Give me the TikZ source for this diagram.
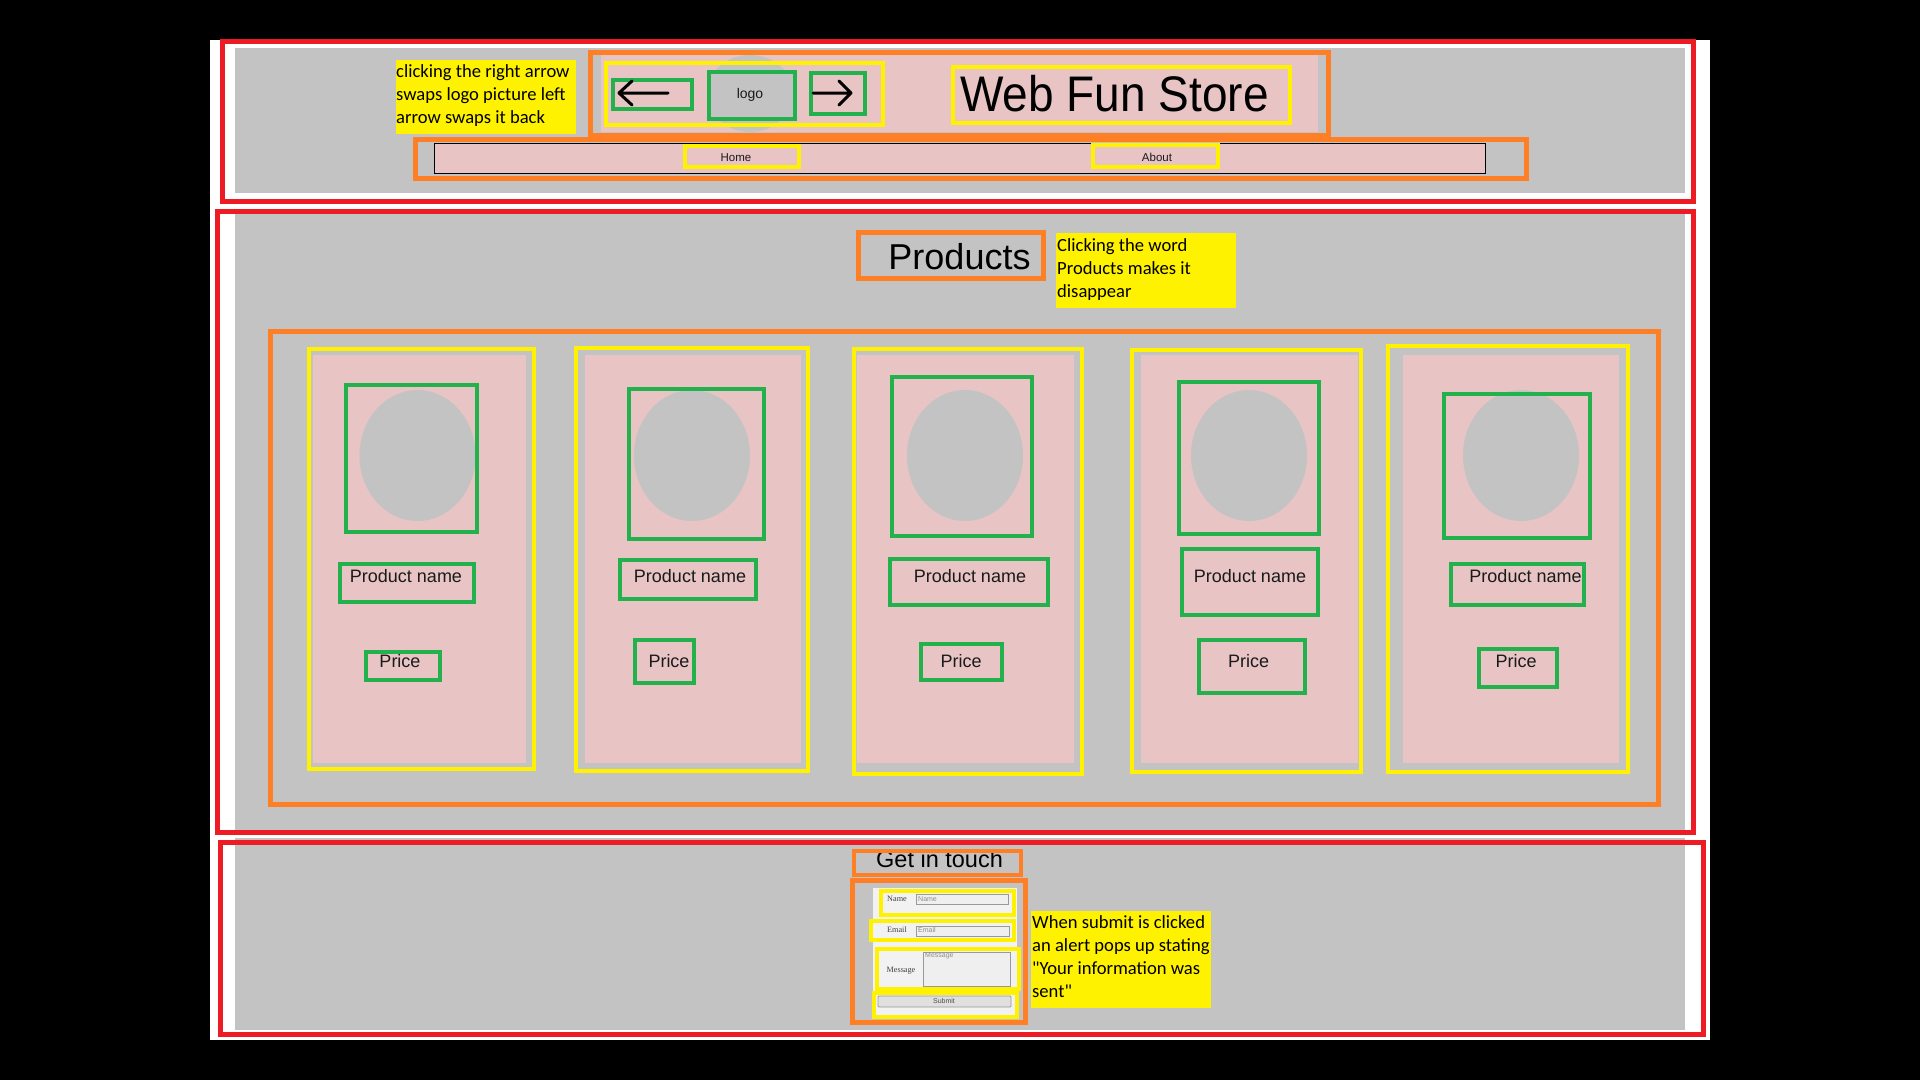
\documentclass[tikz,border=0pt]{standalone}
\usepackage{graphicx}
\usepackage{fontspec}
\setmainfont{Liberation Sans}
\newfontfamily\notefont{Carlito}
\newfontfamily\formserif{Liberation Serif}

\definecolor{wfRed}{HTML}{ED1C24}
\definecolor{wfOrange}{HTML}{FF7F27}
\definecolor{wfYellow}{HTML}{FFF200}
\definecolor{wfGreen}{HTML}{22B14C}
\definecolor{wfGray}{HTML}{C3C3C3}
\definecolor{wfPink}{HTML}{E8C4C4}
\definecolor{wfPanel}{HTML}{F2F2F2}
\definecolor{wfInk}{HTML}{1A1A1A}
\definecolor{wfField}{HTML}{EFEFEF}

\tikzset{
  sectionframe/.style={draw=wfRed, line width=5pt},
  groupframe/.style={draw=wfOrange, line width=5pt},
  itemframe/.style={draw=wfYellow, line width=4.5pt},
  partframe/.style={draw=wfGreen, line width=4.5pt},
  notebox/.style={fill=wfYellow},
  notetext/.style={inner sep=0pt, anchor=north west, align=left,
    font=\notefont\fontsize{18.6}{23}\selectfont},
  uitext/.style={inner sep=0pt, anchor=base, text=wfInk},
  cardtext/.style={uitext, font=\fontsize{18}{18}\selectfont},
  navtext/.style={uitext, font=\fontsize{11.5}{11.5}\selectfont},
  formlabel/.style={inner sep=0pt, anchor=base, text=black!75, font=\formserif\fontsize{8.2}{8.2}\selectfont},
  hint/.style={inner sep=0pt, text=black!45, font=\fontsize{7}{7}\selectfont},
  field/.style={draw=black!40, fill=wfField, line width=0.8pt},
  photo/.style={fill=wfGray},
  arrowicon/.style={draw=black, line width=3pt, line cap=round, line join=round},
}

\begin{document}
\begin{tikzpicture}[x=1pt,y=-1pt]
\useasboundingbox (0,0) rectangle (1920,1080);
\fill[black] (0,0) rectangle (1920,1080);
\fill[white] (210,40) rectangle (1710,1040);

% page sections
\fill[wfGray] (235,48) rectangle (1685,193);
\fill[wfGray] (235,214) rectangle (1685,830);
\fill[wfGray] (235,838) rectangle (1685,1030);
\draw[sectionframe] (222.5,41.5) rectangle (1693.5,201.5);
\draw[sectionframe] (217.5,211.5) rectangle (1693.5,832.5);
\draw[sectionframe] (220.5,842.5) rectangle (1703.5,1034.5);

% ---------------- header ----------------
\fill[wfPink] (601,55) rectangle (1318,132);
\fill[photo] (750,93.5) ellipse [x radius=43, y radius=38.5];
\draw[groupframe] (590.5,52.5) rectangle (1328.5,135.5);
\draw[itemframe] (606,63) rectangle (883,125);
\draw[partframe] (613,80) rectangle (692,109);
\draw[partframe, fill=wfGray] (709,72) rectangle (795,119);
\draw[partframe] (811,73) rectangle (865,114);
\draw[arrowicon] (668,93) -- (619,93) (632,81) -- (619,93) -- (632,105);
\draw[arrowicon] (813,93) -- (851,93) (839,81) -- (851,93) -- (839,105);
\node[uitext, font=\fontsize{14}{14}\selectfont] (logo) at (750,98) {logo};
\draw[itemframe] (953,67) rectangle (1290,123);
\node[uitext, text=black] (storename) at (1114.5,111)
  {\fontsize{50}{50}\selectfont\scalebox{0.92}[1]{Web Fun Store}};

% navigation bar
\draw[groupframe] (415.5,139.5) rectangle (1526.5,178.5);
\draw[fill=wfPink, line width=1pt] (434,143.5) rectangle (1485,173.5);
\draw[itemframe, line width=4pt] (685,146) rectangle (799,167);
\draw[itemframe, line width=4pt] (1093,145) rectangle (1218,167);
\node[navtext] (home) at (736,161.5) {Home};
\node[navtext] (about) at (1157,161.5) {About};

\fill[notebox] (396,60) rectangle (576,134);
\node[notetext] (swapnote) at (396,64.5)
  {clicking the right arrow\\swaps logo picture left\\arrow swaps it back};

% ---------------- products ----------------
\draw[groupframe] (858.5,232.5) rectangle (1043.5,278.5);
\node[uitext, text=black, font=\fontsize{36}{36}\selectfont] (productstitle) at (959.5,269) {Products};
\fill[notebox] (1056,233) rectangle (1236,308);
\node[notetext] (hidenote) at (1057,238.5)
  {Clicking the word\\Products makes it\\disappear};

\draw[groupframe] (270.5,331) rectangle (1658.5,804.5);

% card 1
\draw[itemframe] (309,349) rectangle (534,769);
\fill[wfPink] (312.5,355) rectangle (526,763);
\fill[photo] (417.5,455.5) ellipse [x radius=58, y radius=65.5];
\draw[partframe] (346,385) rectangle (477,532);
\draw[partframe] (340,564) rectangle (474,602);
\draw[partframe] (366,652) rectangle (440,680);
\node[cardtext] (name1) at (406,582) {Product name};
\node[cardtext] (price1) at (400,667) {Price};

% card 2
\draw[itemframe] (576,348) rectangle (808,771);
\fill[wfPink] (585,355) rectangle (801,763);
\fill[photo] (692,455.5) ellipse [x radius=58, y radius=65.5];
\draw[partframe] (629,389) rectangle (764,539);
\draw[partframe] (620,560) rectangle (756,599);
\draw[partframe] (635,640) rectangle (694,683);
\node[cardtext] (name2) at (690,582) {Product name};
\node[cardtext] (price2) at (669,667) {Price};

% card 3
\draw[itemframe] (854,349) rectangle (1082,774);
\fill[wfPink] (857,355) rectangle (1074,763);
\fill[photo] (965,455.5) ellipse [x radius=58, y radius=65.5];
\draw[partframe] (892,377) rectangle (1032,536);
\draw[partframe] (890,559) rectangle (1048,605);
\draw[partframe] (921,644) rectangle (1002,680);
\node[cardtext] (name3) at (970,582) {Product name};
\node[cardtext] (price3) at (961,667) {Price};

% card 4
\draw[itemframe] (1132,350) rectangle (1361,772);
\fill[wfPink] (1141,355) rectangle (1358,763);
\fill[photo] (1249,455.5) ellipse [x radius=58, y radius=65.5];
\draw[partframe] (1179,382) rectangle (1319,534);
\draw[partframe] (1182,549) rectangle (1318,615);
\draw[partframe] (1199,640) rectangle (1305,693);
\node[cardtext] (name4) at (1250,582) {Product name};
\node[cardtext] (price4) at (1248.5,667) {Price};

% card 5
\draw[itemframe] (1388,346) rectangle (1628,772);
\fill[wfPink] (1403,355) rectangle (1619,763);
\fill[photo] (1521,455.5) ellipse [x radius=58, y radius=65.5];
\draw[partframe] (1444,394) rectangle (1590,538);
\draw[partframe] (1451,564) rectangle (1584,605);
\draw[partframe] (1479,649) rectangle (1557,687);
\node[cardtext] (name5) at (1525.5,582) {Product name};
\node[cardtext] (price5) at (1516,667) {Price};

% ---------------- contact ----------------
\node[uitext, text=black, font=\fontsize{23.5}{23.5}\selectfont] (touch) at (939.5,867) {Get in touch};
\draw[groupframe, line width=4.5pt] (854,851) rectangle (1021,875);
\draw[groupframe] (852.5,880.5) rectangle (1025.5,1022.5);
\fill[wfPanel] (873,888) rectangle (1017,1015);

\node[formlabel] (namelabel) at (897,901.7) {Name};
\draw[field] (916,894) rectangle (1008,904);
\node[hint, anchor=base west] (namehint) at (918,901.7) {Name};

\node[formlabel] (emaillabel) at (897,932.7) {Email};
\draw[field] (916,926) rectangle (1009,936);
\node[hint, anchor=base west] (emailhint) at (918,932.7) {Email};

\node[formlabel] (messagelabel) at (901,972.3) {Message};
\draw[field] (923,952) rectangle (1010,986);
\node[hint, anchor=base west] (messagehint) at (925,957) {Message};

\draw[draw=black!40, fill=black!12, line width=0.8pt, rounded corners=1pt] (878,996) rectangle (1011,1007);
\node[uitext, text=black!70, font=\fontsize{7}{7}\selectfont] (submit) at (944,1003.8) {Submit};

\draw[itemframe, line width=4pt] (881,891) rectangle (1014,915);
\draw[itemframe, line width=4pt] (871,921) rectangle (1014,940);
\draw[itemframe, line width=4pt] (877,949) rectangle (1019,989);
\draw[itemframe, line width=4pt] (874,993) rectangle (1017,1017);

\fill[notebox] (1031,911) rectangle (1211,1008);
\node[notetext] (alertnote) at (1032,915.5)
  {When submit is clicked\\an alert pops up stating\\"Your information was\\sent"};
\end{tikzpicture}
\end{document}
